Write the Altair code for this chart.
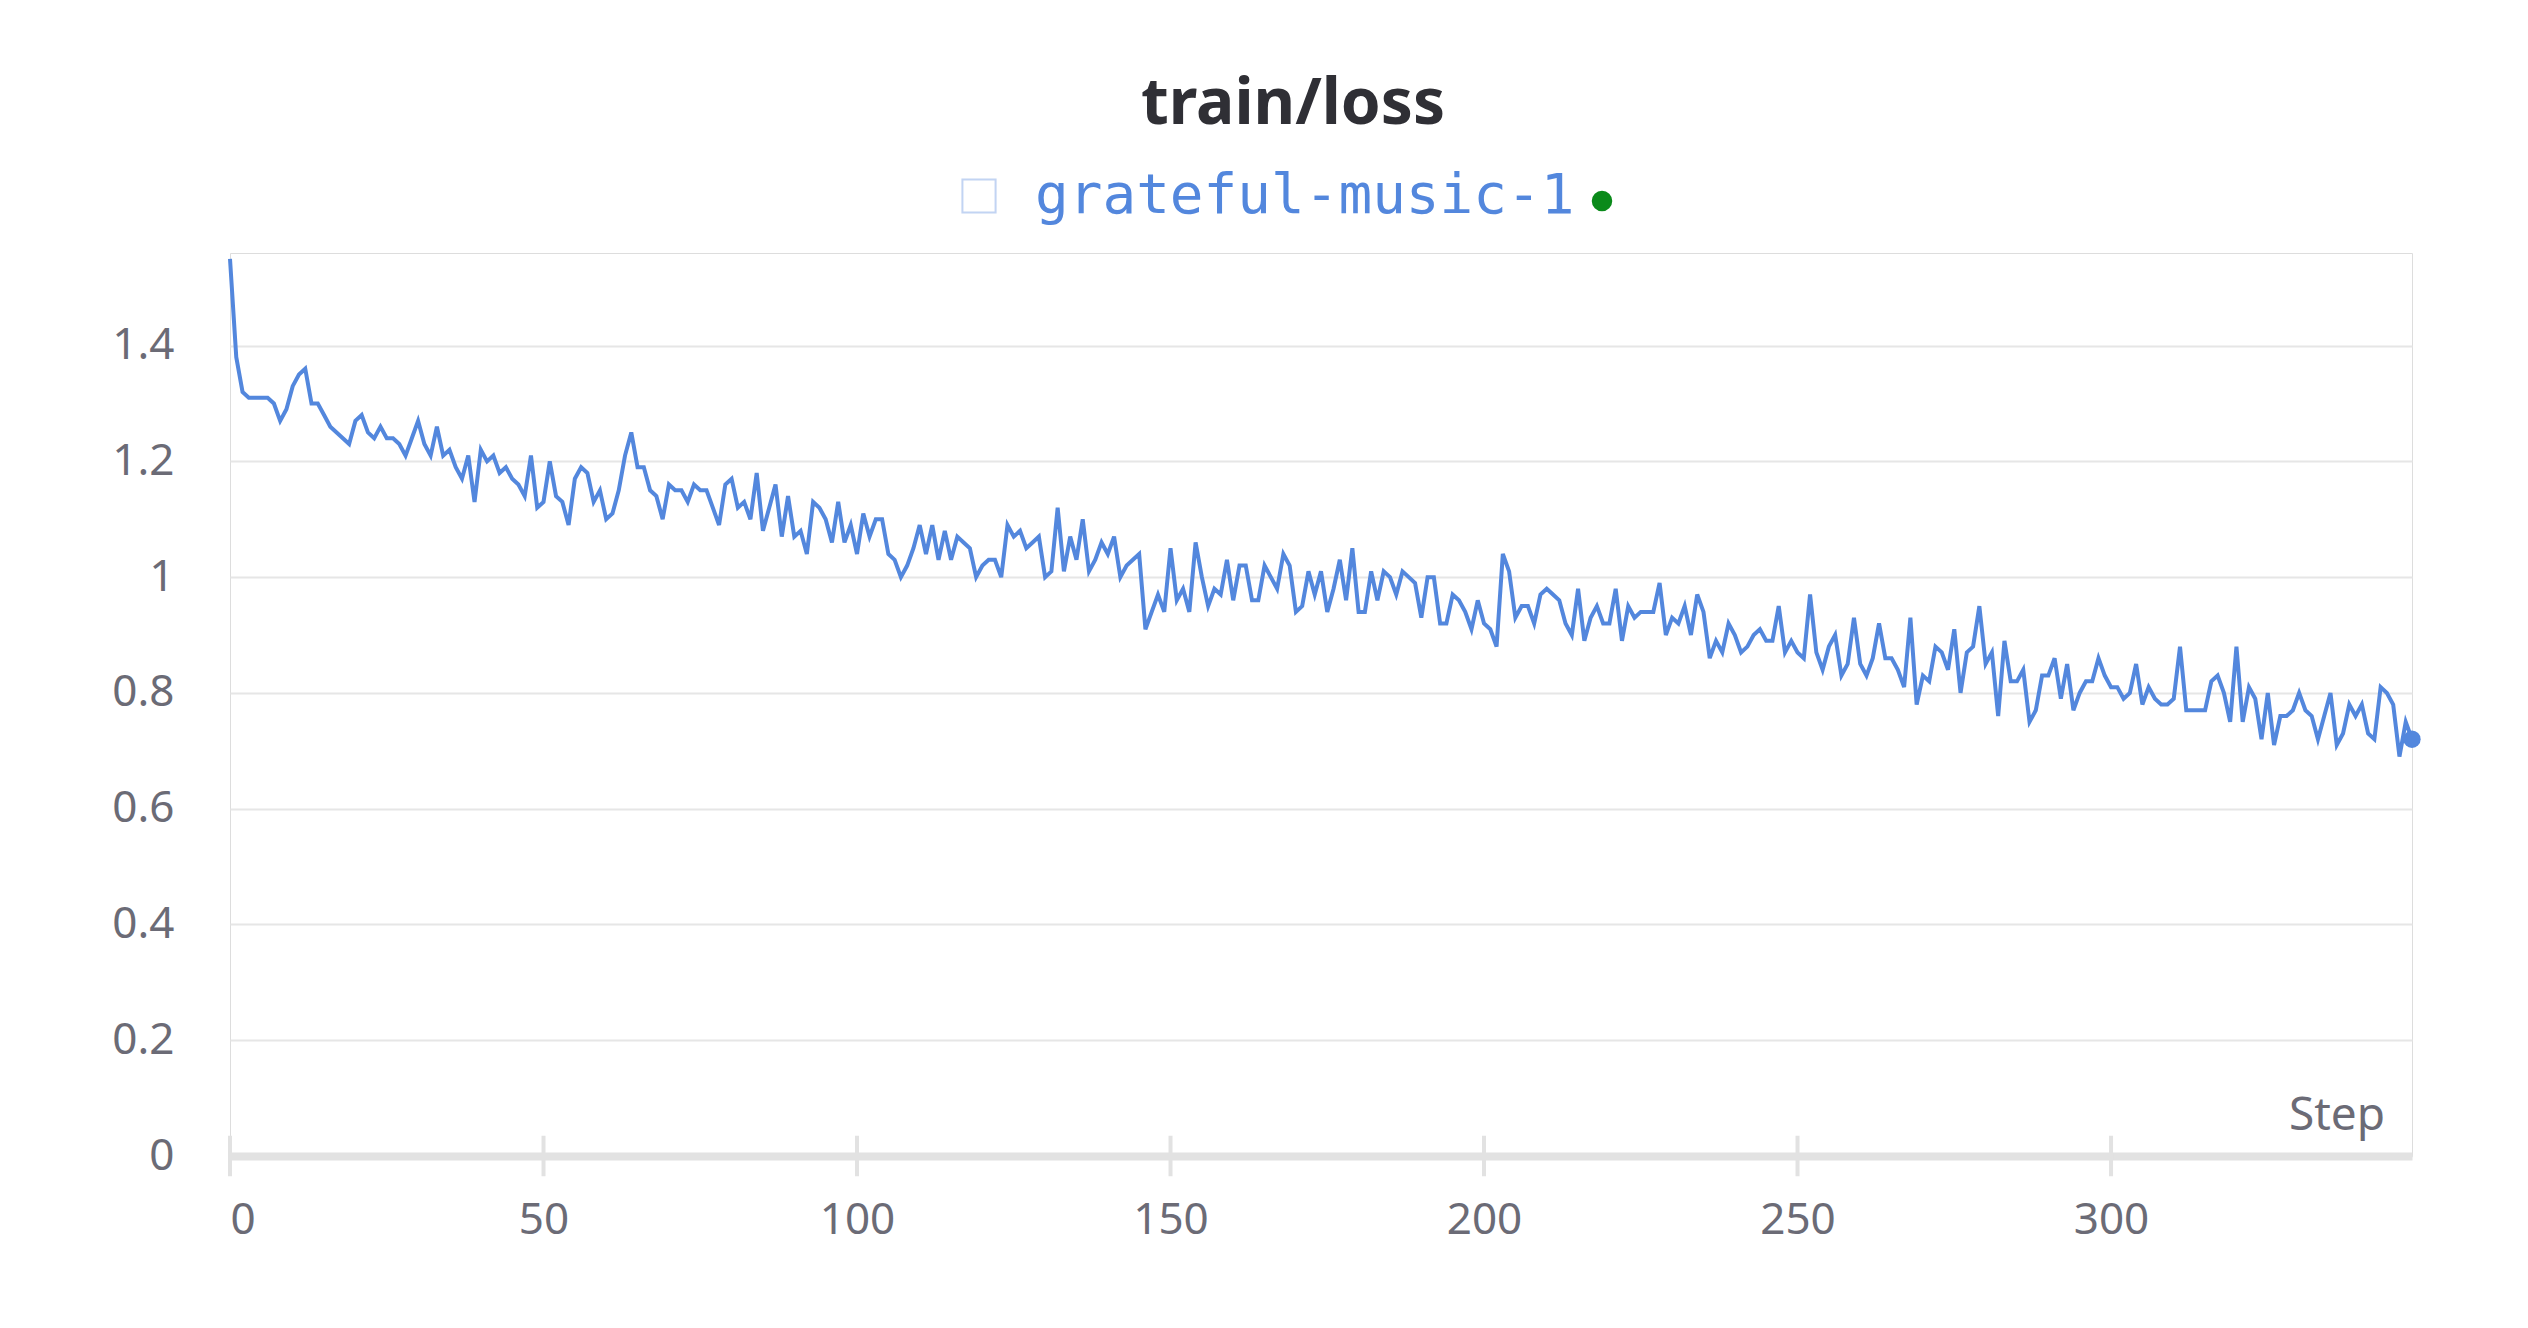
import altair as alt
import pandas as pd

loss = [
    1.55, 1.38, 1.32, 1.31, 1.31, 1.31, 1.31, 1.30, 1.27, 1.29, 1.33, 1.35, 1.36, 1.30, 1.30, 1.28, 1.26, 1.25, 1.24, 1.23,
    1.27, 1.28, 1.25, 1.24, 1.26, 1.24, 1.24, 1.23, 1.21, 1.24, 1.27, 1.23, 1.21, 1.26, 1.21, 1.22, 1.19, 1.17, 1.21, 1.13,
    1.22, 1.20, 1.21, 1.18, 1.19, 1.17, 1.16, 1.14, 1.21, 1.12, 1.13, 1.20, 1.14, 1.13, 1.09, 1.17, 1.19, 1.18, 1.13, 1.15,
    1.10, 1.11, 1.15, 1.21, 1.25, 1.19, 1.19, 1.15, 1.14, 1.10, 1.16, 1.15, 1.15, 1.13, 1.16, 1.15, 1.15, 1.12, 1.09, 1.16,
    1.17, 1.12, 1.13, 1.10, 1.18, 1.08, 1.12, 1.16, 1.07, 1.14, 1.07, 1.08, 1.04, 1.13, 1.12, 1.10, 1.06, 1.13, 1.06, 1.09,
    1.04, 1.11, 1.07, 1.10, 1.10, 1.04, 1.03, 1.00, 1.02, 1.05, 1.09, 1.04, 1.09, 1.03, 1.08, 1.03, 1.07, 1.06, 1.05, 1.00,
    1.02, 1.03, 1.03, 1.00, 1.09, 1.07, 1.08, 1.05, 1.06, 1.07, 1.00, 1.01, 1.12, 1.01, 1.07, 1.03, 1.10, 1.01, 1.03, 1.06,
    1.04, 1.07, 1.00, 1.02, 1.03, 1.04, 0.91, 0.94, 0.97, 0.94, 1.05, 0.96, 0.98, 0.94, 1.06, 1.00, 0.95, 0.98, 0.97, 1.03,
    0.96, 1.02, 1.02, 0.96, 0.96, 1.02, 1.00, 0.98, 1.04, 1.02, 0.94, 0.95, 1.01, 0.97, 1.01, 0.94, 0.98, 1.03, 0.96, 1.05,
    0.94, 0.94, 1.01, 0.96, 1.01, 1.00, 0.97, 1.01, 1.00, 0.99, 0.93, 1.00, 1.00, 0.92, 0.92, 0.97, 0.96, 0.94, 0.91, 0.96,
    0.92, 0.91, 0.88, 1.04, 1.01, 0.93, 0.95, 0.95, 0.92, 0.97, 0.98, 0.97, 0.96, 0.92, 0.90, 0.98, 0.89, 0.93, 0.95, 0.92,
    0.92, 0.98, 0.89, 0.95, 0.93, 0.94, 0.94, 0.94, 0.99, 0.90, 0.93, 0.92, 0.95, 0.90, 0.97, 0.94, 0.86, 0.89, 0.87, 0.92,
    0.90, 0.87, 0.88, 0.90, 0.91, 0.89, 0.89, 0.95, 0.87, 0.89, 0.87, 0.86, 0.97, 0.87, 0.84, 0.88, 0.90, 0.83, 0.85, 0.93,
    0.85, 0.83, 0.86, 0.92, 0.86, 0.86, 0.84, 0.81, 0.93, 0.78, 0.83, 0.82, 0.88, 0.87, 0.84, 0.91, 0.80, 0.87, 0.88, 0.95,
    0.85, 0.87, 0.76, 0.89, 0.82, 0.82, 0.84, 0.75, 0.77, 0.83, 0.83, 0.86, 0.79, 0.85, 0.77, 0.80, 0.82, 0.82, 0.86, 0.83,
    0.81, 0.81, 0.79, 0.80, 0.85, 0.78, 0.81, 0.79, 0.78, 0.78, 0.79, 0.88, 0.77, 0.77, 0.77, 0.77, 0.82, 0.83, 0.80, 0.75,
    0.88, 0.75, 0.81, 0.79, 0.72, 0.80, 0.71, 0.76, 0.76, 0.77, 0.80, 0.77, 0.76, 0.72, 0.76, 0.80, 0.71, 0.73, 0.78, 0.76,
    0.78, 0.73, 0.72, 0.81, 0.80, 0.78, 0.69, 0.75, 0.72,
]
steps = list(range(len(loss)))
x_ticks = [0, 50, 100, 150, 200, 250, 300]
y_ticks = [0, 0.2, 0.4, 0.6, 0.8, 1, 1.2, 1.4]

BLUE = "#5387dd"
GRAY = "#6b6b76"
FONT = "Noto Sans"
W, H = 2182, 903

df = pd.DataFrame({"step": steps, "loss": loss})
xs = alt.Scale(domain=[0, steps[-1]], nice=False, zero=False)
ys = alt.Scale(domain=[0, 1.56], nice=False)

line = alt.Chart(df).mark_line(color=BLUE, strokeWidth=4).encode(
    x=alt.X("step:Q", scale=xs, axis=alt.Axis(
        values=x_ticks, grid=False, domainColor="#e2e2e2", domainWidth=8, ticks=False,
        labelFontSize=44, labelColor=GRAY, labelFont=FONT, labelPadding=42, title=None)),
    y=alt.Y("loss:Q", scale=ys, axis=alt.Axis(
        values=y_ticks, domain=False, ticks=False, gridColor="#e6e6e6", gridWidth=2,
        labelFontSize=44, labelColor=GRAY, labelFont=FONT, labelPadding=56, title=None,
        labelExpr="datum.value == 0 ? '0' : format(datum.value, '.1~f')")),
)

last = alt.Chart(df.tail(1)).mark_point(filled=True, size=300, color=BLUE, opacity=1).encode(
    x=alt.X("step:Q", scale=xs), y=alt.Y("loss:Q", scale=ys))

tick_df = pd.DataFrame({"t": x_ticks, "lo": [-0.035] * len(x_ticks), "hi": [0.035] * len(x_ticks)})
tick_marks = alt.Chart(tick_df).mark_rule(color="#e2e2e2", strokeWidth=4).encode(
    x=alt.X("t:Q", scale=xs), y=alt.Y("lo:Q", scale=ys), y2="hi:Q")

title = alt.Chart(pd.DataFrame({"t": ["train/loss"]})).mark_text(
    fontSize=64, fontWeight="bold", font=FONT, color="#2f2f35", baseline="middle").encode(
    text="t:N", x=alt.value(W / 2 - 28), y=alt.value(-148))

legend_text = alt.Chart(pd.DataFrame({"t": ["grateful-music-1"]})).mark_text(
    fontSize=56, font="DejaVu Sans Mono", color=BLUE, align="left", baseline="middle").encode(
    text="t:N", x=alt.value(805), y=alt.value(-57))

legend_box = alt.Chart(pd.DataFrame({"t": [0]})).mark_square(
    size=1100, filled=False, stroke="#a9c2ee", strokeWidth=2).encode(
    x=alt.value(749), y=alt.value(-57))

legend_dot = alt.Chart(pd.DataFrame({"t": [0]})).mark_circle(size=420, color="#0a8a1a", opacity=1).encode(
    x=alt.value(1372), y=alt.value(-52))

step_label = alt.Chart(pd.DataFrame({"t": ["Step"]})).mark_text(
    fontSize=46, font=FONT, color=GRAY, align="right", baseline="middle").encode(
    text="t:N", x=alt.value(2155), y=alt.value(863))

chart = alt.layer(line, tick_marks, last, title, legend_box, legend_text, legend_dot, step_label).properties(
    width=W, height=H,
    autosize=alt.AutoSizeParams(type="none"),
    padding={"left": 222, "top": 245, "right": 100, "bottom": 140},
).configure_view(stroke=None).configure(background="white")

chart.save("out.html", embed_options={"renderer": "svg", "actions": False})
